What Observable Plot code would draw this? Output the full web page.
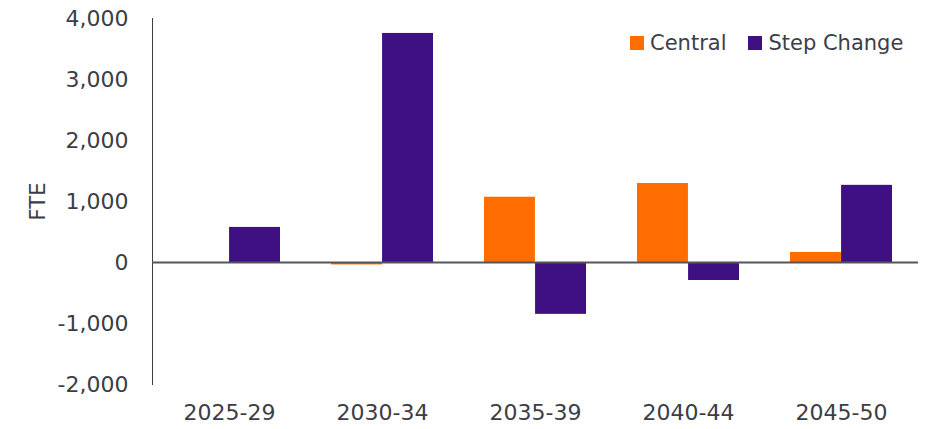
<!DOCTYPE html>
<html>
<head>
<meta charset="utf-8">
<script src="https://cdn.jsdelivr.net/npm/d3@7"></script>
<script src="https://cdn.jsdelivr.net/npm/@observablehq/plot@0.6"></script>
<style>
  html, body { margin: 0; padding: 0; background: #fff; }
  #wrap { position: relative; width: 925px; height: 429px; font-family: "DejaVu Sans", sans-serif; }
  #legend { position: absolute; top: 31px; left: 630px; display: flex; align-items: center; font-size: 21px; color: #3d3d47; white-space: nowrap; }
  .item { display: flex; align-items: center; margin-right: 22px; }
  .sw { width: 14px; height: 14px; margin-right: 6px; }
</style>
</head>
<body>
<div id="wrap"><div id="legend"></div></div>
<script>
const categories = ["2025-29", "2030-34", "2035-39", "2040-44", "2045-50"];
const series = ["Central", "Step Change"];
const central = [-10, -40, 1070, 1295, 165];
const stepChange = [575, 3755, -850, -295, 1265];
const yTicks = [-2000, -1000, 0, 1000, 2000, 3000, 4000];
const colors = ["#ff6d00", "#3f1082"];

const data = [];
categories.forEach((c, i) => {
  data.push({category: c, series: series[0], value: central[i]});
  data.push({category: c, series: series[1], value: stepChange[i]});
});

const width = 925, height = 429, ml = 152, mr = 7;
const paddingInner = 1 / 3, paddingOuter = 1 / 6;
const step = (width - ml - mr) / (categories.length - paddingInner + 2 * paddingOuter);
const half = step * (1 - paddingInner) / 2;
const fmt = d => d3.format(",")(d).replace("\u2212", "-");

const plot = Plot.plot({
  width, height,
  marginLeft: ml, marginRight: mr, marginTop: 18, marginBottom: 45,
  style: {fontFamily: "DejaVu Sans, sans-serif", fontSize: "22px", color: "#3d3d47", background: "#fff"},
  x: {domain: categories, paddingInner, paddingOuter, label: null, tickSize: 0, tickPadding: 20},
  y: {domain: [-2000, 4000], ticks: yTicks, tickFormat: fmt, tickSize: 0, tickPadding: 24,
      label: "FTE", labelAnchor: "center", labelOffset: 122, labelArrow: "none", line: true},
  color: {domain: series, range: colors},
  marks: [
    Plot.barY(data.filter(d => d.series === series[0]), {x: "category", y: "value", fill: "series", insetLeft: 0, insetRight: half}),
    Plot.barY(data.filter(d => d.series === series[1]), {x: "category", y: "value", fill: "series", insetLeft: half, insetRight: 0}),
    Plot.ruleY([0], {stroke: "#55555e", strokeWidth: 2})
  ]
});
plot.querySelectorAll("g[aria-label='y-axis label'] text, g[aria-label='y-axis label']").forEach(el => el.setAttribute("font-size", "21"));
document.getElementById("wrap").prepend(plot);

const legend = document.getElementById("legend");
series.forEach((s, i) => {
  const item = document.createElement("div");
  item.className = "item";
  const sw = document.createElement("div");
  sw.className = "sw";
  sw.style.background = colors[i];
  const t = document.createElement("span");
  t.textContent = s;
  item.append(sw, t);
  legend.append(item);
});
</script>
</body>
</html>
